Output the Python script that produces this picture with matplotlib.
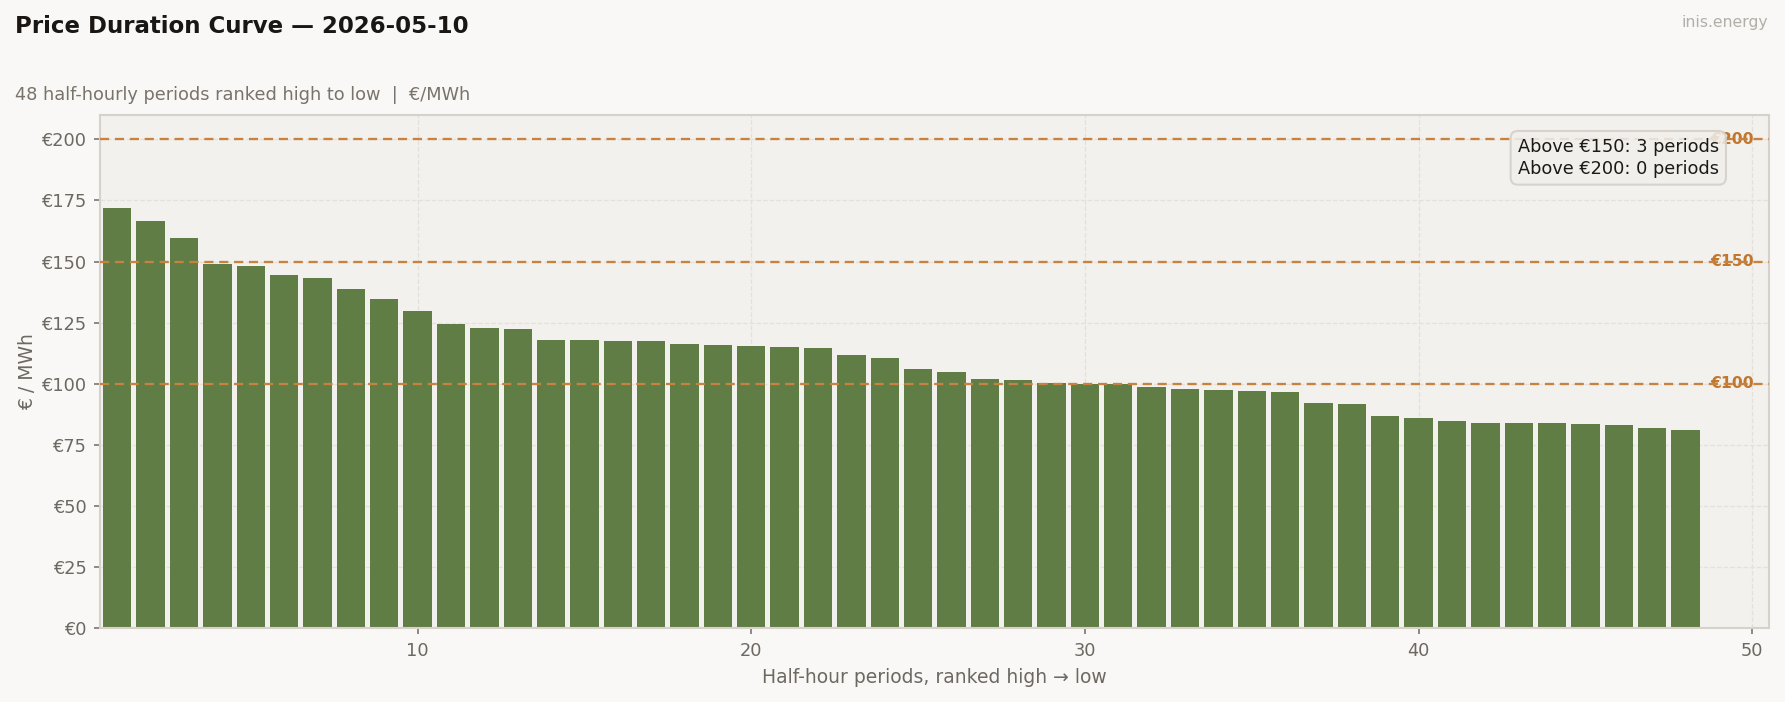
import matplotlib
matplotlib.use("Agg")
import matplotlib.pyplot as plt
import matplotlib.transforms as mtransforms

# ---- data ----
prices = [172.0, 166.8, 159.8, 149.2, 148.0, 144.3, 143.4, 138.9, 134.8, 129.9,
          124.6, 123.0, 122.5, 118.0, 118.0, 117.6, 117.6, 116.4, 116.0, 115.6,
          115.2, 114.8, 111.9, 110.7, 106.1, 104.9, 102.0, 101.6, 100.4, 99.9,
          99.9, 98.8, 97.9, 97.5, 97.1, 96.7, 92.2, 91.8, 86.9, 86.1,
          84.8, 84.0, 84.0, 84.0, 83.6, 83.2, 82.0, 81.1]
ranks = list(range(1, len(prices) + 1))
thresholds = [100, 150, 200]
yticks = [0, 25, 50, 75, 100, 125, 150, 175, 200]
ytick_labels = [f"€{v}" for v in yticks]
title = "Price Duration Curve — 2026-05-10"
subtitle = "48 half-hourly periods ranked high to low  |  €/MWh"
xlabel = "Half-hour periods, ranked high → low"
ylabel = "€ / MWh"
count150 = sum(p > 150 for p in prices)
count200 = sum(p > 200 for p in prices)

# ---- style ----
FIG_BG = "#f9f8f6"
AX_BG = "#f3f1ed"
BAR = "#617d46"
LINE = "#c8823f"
LABEL = "#c0772f"
TICK = "#6e6862"
SPINE = "#d6d1ca"
GRID = "#e4e0da"

fig = plt.figure(figsize=(11.9, 4.68), dpi=150, facecolor=FIG_BG)
ax = fig.add_axes([0.056, 0.1054, 0.935, 0.7308])
ax.set_facecolor(AX_BG)

ax.bar(ranks, prices, width=0.85, color=BAR, zorder=2)

trans = mtransforms.blended_transform_factory(ax.transAxes, ax.transData)
for t in thresholds:
    ax.axhline(t, color=LINE, linestyle=(0, (4, 2.5)), linewidth=1.1, zorder=4)
    ax.text(0.991, t, f"€{t}", transform=trans, ha="right", va="center",
            fontsize=7.5, fontweight="bold", color=LABEL, zorder=3)

ax.set_xlim(0.48, 50.5)
ax.set_ylim(0, 210)
ax.set_yticks(yticks)
ax.set_yticklabels(ytick_labels)
ax.set_xticks([10, 20, 30, 40, 50])

ax.grid(True, color=GRID, linestyle="--", linewidth=0.6, zorder=0)
ax.set_axisbelow(True)
for s in ax.spines.values():
    s.set_color(SPINE)
    s.set_linewidth(1.0)
ax.tick_params(colors="#7a7470", labelsize=8.5, length=3, width=0.8, pad=3.5)
for lbl in ax.get_xticklabels() + ax.get_yticklabels():
    lbl.set_color(TICK)

ax.set_xlabel(xlabel, fontsize=9, color=TICK, labelpad=4)
ax.set_ylabel(ylabel, fontsize=9, color=TICK, labelpad=2)

ax.text(0.97, 0.955, f"Above €150: {count150} periods\nAbove €200: {count200} periods",
        transform=ax.transAxes, ha="right", va="top", fontsize=8.5, color="#1c1a18",
        zorder=6, linespacing=1.25,
        bbox=dict(boxstyle="round,pad=0.4", facecolor="#f1efeb", edgecolor="#d3cec7",
                  linewidth=1.0, alpha=0.85))

fig.text(0.0084, 0.978, title, ha="left", va="top", fontsize=11,
         fontweight="bold", color="#1a1614")
fig.text(0.0084, 0.878, subtitle, ha="left", va="top", fontsize=8.5, color="#7a736c")
fig.text(0.9905, 0.978, "inis.energy", ha="right", va="top", fontsize=7.5, color="#b3aea8")

fig.savefig("out.png", dpi=150, facecolor=FIG_BG)
